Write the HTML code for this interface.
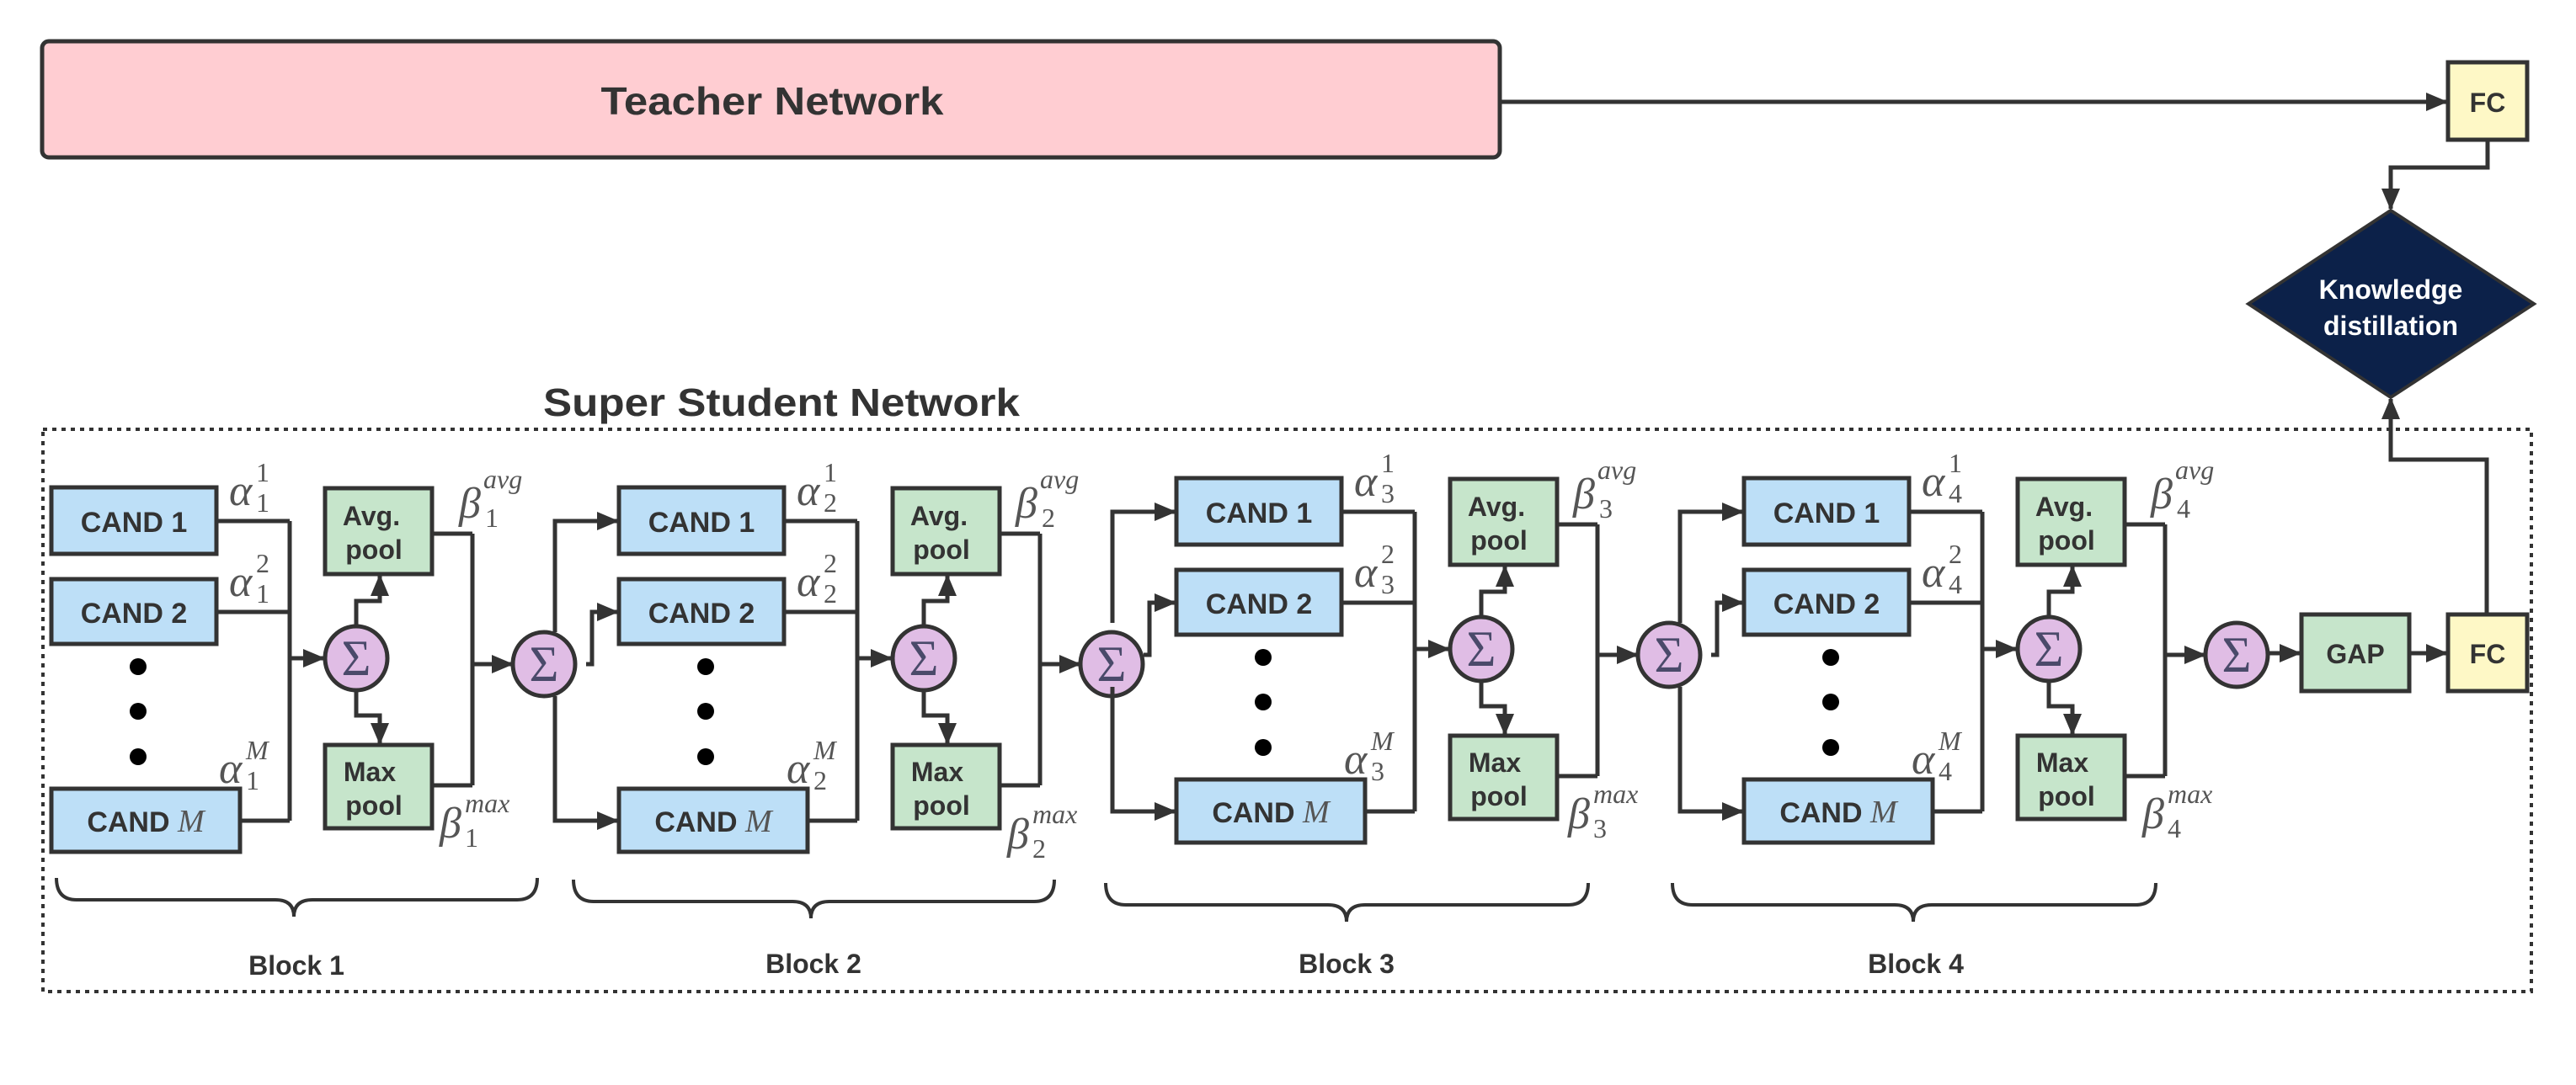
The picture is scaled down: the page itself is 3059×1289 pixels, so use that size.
<!DOCTYPE html>
<html><head><meta charset="utf-8"><style>
html,body{margin:0;padding:0;background:#fff;}
svg{display:block;}
.bx{stroke:#333;stroke-width:5;}
.ln{stroke:#333;stroke-width:5;fill:none;}
.ct{font-family:"Liberation Sans",sans-serif;font-weight:bold;fill:#333;text-anchor:middle;}
.m{font-family:"Liberation Serif",serif;font-style:italic;fill:#555;}
.m .u{font-style:normal;}
.sg{font-family:"Liberation Serif",serif;fill:#4a4a6a;text-anchor:middle;font-size:60px;}
</style></head><body>
<svg width="3059" height="1289" viewBox="0 0 3059 1289" xmlns="http://www.w3.org/2000/svg">
<defs>
<marker id="a" markerUnits="userSpaceOnUse" markerWidth="26" markerHeight="22" refX="24" refY="11" orient="auto">
<path d="M0,0 L26,11 L0,22 Z" fill="#333"/></marker>
<g id="blk">
<rect class="bx" x="0" y="579" width="196" height="79" fill="#bddff7"/>
<text class="ct" x="98" y="632" font-size="34">CAND 1</text>
<rect class="bx" x="0" y="688" width="196" height="77" fill="#bddff7"/>
<text class="ct" x="98" y="740" font-size="34">CAND 2</text>
<rect class="bx" x="0" y="937" width="224" height="75" fill="#bddff7"/>
<text class="ct" x="112" y="988" font-size="34">CAND <tspan font-family="Liberation Serif" font-style="italic" font-weight="normal" fill="#555" font-size="38">M</tspan></text>
<circle cx="103" cy="792" r="10" fill="#000"/>
<circle cx="103" cy="845" r="10" fill="#000"/>
<circle cx="103" cy="899" r="10" fill="#000"/>
<path class="ln" d="M196,619 H283 M196,727 H283 M224,975 H283 M283,619 V975"/>
<path class="ln" d="M283,782 H323" marker-end="url(#a)"/>
<ellipse class="bx" cx="362" cy="782" rx="37" ry="38" fill="#e0bde5"/>
<text class="sg" x="362" y="802">Σ</text>
<rect class="bx" x="325" y="580" width="127" height="102" fill="#c6e5cb"/>
<text class="ct" x="380" y="624" font-size="32">Avg.</text>
<text class="ct" x="383" y="664" font-size="32">pool</text>
<rect class="bx" x="325" y="885" width="127" height="99" fill="#c6e5cb"/>
<text class="ct" x="378" y="928" font-size="32">Max</text>
<text class="ct" x="383" y="968" font-size="32">pool</text>
<path class="ln" d="M362,744 V714 H390 V684" marker-end="url(#a)"/>
<path class="ln" d="M362,820 V850 H390 V883" marker-end="url(#a)"/>
<path class="ln" d="M452,634 H500 M452,933 H500 M500,634 V933"/>
<path class="ln" d="M500,789 H547" marker-end="url(#a)"/>
<ellipse class="bx" cx="585" cy="789" rx="37" ry="38" fill="#e0bde5"/>
<text class="sg" x="585" y="809">Σ</text>
</g>
<g id="feed">
<path class="ln" d="M-76,751 V619 H-2" marker-end="url(#a)"/>
<path class="ln" d="M-76,827 V975 H-2" marker-end="url(#a)"/>
<path class="ln" d="M-39,789 H-32 V727 H-2" marker-end="url(#a)"/>
</g>
</defs>

<rect x="50" y="49" width="1731" height="138" rx="8" fill="#ffcdd2" stroke="#333" stroke-width="5"/>
<text class="ct" x="917" y="136" font-size="46" textLength="407" lengthAdjust="spacingAndGlyphs">Teacher Network</text>
<path class="ln" d="M1781,121 H2905" marker-end="url(#a)"/>
<rect class="bx" x="2907" y="74" width="94" height="92" fill="#fef8c6"/>
<text class="ct" x="2954" y="133" font-size="32">FC</text>
<path class="ln" d="M2954,166 V199 H2839 V248" marker-end="url(#a)"/>
<polygon points="2839,250 3009,361 2839,472 2670,361" fill="#0c2149" stroke="#333" stroke-width="4"/>
<text class="ct" x="2839" y="355" font-size="32" style="fill:#fff">Knowledge</text>
<text class="ct" x="2839" y="398" font-size="32" style="fill:#fff">distillation</text>

<text class="ct" x="645" y="494" font-size="46" style="text-anchor:start" textLength="566" lengthAdjust="spacingAndGlyphs">Super Student Network</text>
<rect x="51" y="510" width="2955" height="668" fill="none" stroke="#333" stroke-width="4" stroke-dasharray="5 6"/>

<use href="#blk" x="61" y="0"/>
<use href="#blk" x="735" y="0"/>
<use href="#feed" x="735" y="0"/>
<use href="#blk" x="1397" y="-11"/>
<use href="#feed" x="1397" y="-11"/>
<use href="#blk" x="2071" y="-11"/>
<use href="#feed" x="2071" y="-11"/>

<path class="ln" d="M2693,776 H2731" marker-end="url(#a)"/>
<rect class="bx" x="2733" y="730" width="128" height="91" fill="#c6e5cb"/>
<text class="ct" x="2797" y="788" font-size="32">GAP</text>
<path class="ln" d="M2861,776 H2905" marker-end="url(#a)"/>
<rect class="bx" x="2907" y="730" width="94" height="91" fill="#fef8c6"/>
<text class="ct" x="2954" y="788" font-size="32">FC</text>
<path class="ln" d="M2953,730 V546 H2839 V474" marker-end="url(#a)"/>

<g class="m">
<text x="272" y="600" font-size="52">α</text><text class="u" x="304" y="572" font-size="32">1</text><text class="u" x="304" y="608" font-size="32">1</text>
<text x="272" y="708" font-size="52">α</text><text class="u" x="304" y="680" font-size="32">2</text><text class="u" x="304" y="716" font-size="32">1</text>
<text x="260" y="930" font-size="52">α</text><text x="292" y="902" font-size="32">M</text><text class="u" x="292" y="938" font-size="32">1</text>
<text x="545" y="615" font-size="52">β</text><text x="574" y="580" font-size="32">avg</text><text class="u" x="576" y="626" font-size="32">1</text>
<text x="522" y="995" font-size="52">β</text><text x="552" y="965" font-size="32">max</text><text class="u" x="552" y="1006" font-size="32">1</text>

<text x="946" y="600" font-size="52">α</text><text class="u" x="978" y="572" font-size="32">1</text><text class="u" x="978" y="608" font-size="32">2</text>
<text x="946" y="708" font-size="52">α</text><text class="u" x="978" y="680" font-size="32">2</text><text class="u" x="978" y="716" font-size="32">2</text>
<text x="934" y="930" font-size="52">α</text><text x="966" y="902" font-size="32">M</text><text class="u" x="966" y="938" font-size="32">2</text>
<text x="1206" y="615" font-size="52">β</text><text x="1235" y="580" font-size="32">avg</text><text class="u" x="1237" y="626" font-size="32">2</text>
<text x="1196" y="1008" font-size="52">β</text><text x="1226" y="978" font-size="32">max</text><text class="u" x="1226" y="1019" font-size="32">2</text>

<text x="1608" y="589" font-size="52">α</text><text class="u" x="1640" y="561" font-size="32">1</text><text class="u" x="1640" y="597" font-size="32">3</text>
<text x="1608" y="697" font-size="52">α</text><text class="u" x="1640" y="669" font-size="32">2</text><text class="u" x="1640" y="705" font-size="32">3</text>
<text x="1596" y="919" font-size="52">α</text><text x="1628" y="891" font-size="32">M</text><text class="u" x="1628" y="927" font-size="32">3</text>
<text x="1868" y="604" font-size="52">β</text><text x="1897" y="569" font-size="32">avg</text><text class="u" x="1899" y="615" font-size="32">3</text>
<text x="1862" y="984" font-size="52">β</text><text x="1892" y="954" font-size="32">max</text><text class="u" x="1892" y="995" font-size="32">3</text>

<text x="2282" y="589" font-size="52">α</text><text class="u" x="2314" y="561" font-size="32">1</text><text class="u" x="2314" y="597" font-size="32">4</text>
<text x="2282" y="697" font-size="52">α</text><text class="u" x="2314" y="669" font-size="32">2</text><text class="u" x="2314" y="705" font-size="32">4</text>
<text x="2270" y="919" font-size="52">α</text><text x="2302" y="891" font-size="32">M</text><text class="u" x="2302" y="927" font-size="32">4</text>
<text x="2554" y="604" font-size="52">β</text><text x="2583" y="569" font-size="32">avg</text><text class="u" x="2585" y="615" font-size="32">4</text>
<text x="2544" y="984" font-size="52">β</text><text x="2574" y="954" font-size="32">max</text><text class="u" x="2574" y="995" font-size="32">4</text>
</g>

<g class="ln" style="stroke-width:4">
<path d="M67,1043 q0,26 24,26 H327 q22,0 22,20 q0,-20 22,-20 H614 q24,0 24,-26"/>
<path d="M681,1045 q0,26 24,26 H941 q22,0 22,20 q0,-20 22,-20 H1228 q24,0 24,-26"/>
<path d="M1313,1049 q0,26 24,26 H1577 q22,0 22,20 q0,-20 22,-20 H1862 q24,0 24,-26"/>
<path d="M1986,1049 q0,26 24,26 H2250 q22,0 22,20 q0,-20 22,-20 H2536 q24,0 24,-26"/>
</g>
<g class="ct" font-size="32">
<text x="352" y="1158">Block 1</text>
<text x="966" y="1156">Block 2</text>
<text x="1599" y="1156">Block 3</text>
<text x="2275" y="1156">Block 4</text>
</g>
</svg>
</body></html>
